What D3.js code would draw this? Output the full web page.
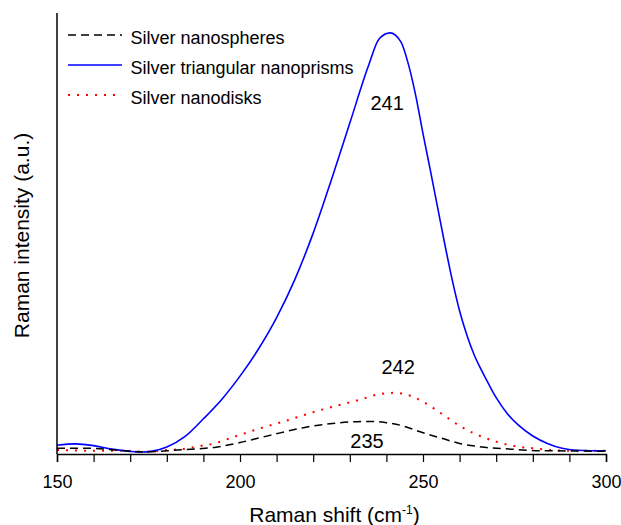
<!DOCTYPE html>
<html>
<head>
<meta charset="utf-8">
<script src="https://cdn.jsdelivr.net/npm/d3@7"></script>
<style>
  body { margin: 0; background: #fff; }
  svg { display: block; font-family: "Liberation Sans", Arial, sans-serif; }
</style>
</head>
<body>
<div id="chart"></div>
<script>
// Raman shift (cm-1) and intensity (a.u.)
const shiftPrisms = [150,155,160,165,170,173,176,180,185,190,195,200,205,210,215,220,225,230,235,238,241,244,246,248,250,252,254,256,258,260,262,264,266,268,270,273,276,280,284,288,292,296,300];
const intPrisms   = [20,23,19,11,6,4.5,6.5,16,40,80,124,177,238,310,397,502,624,752,880,943,957,936,886,815,728,645,560,475,395,325,270,225,190,158,128,92,66,41,24,13,8.5,7.5,7.5];

const shiftDisks = [150,155,160,167,174,180,184,189,193,198,205,212,220,227,233,238,242,245,250,255,260,265,270,275,280,285,290,300];
const intDisks   = [9,8,7.5,7.5,5,9,11,18,24,38,57,74,95,111,124,136,139,136,119,92,64,43,28,18,13,9,7.5,7.5];

const shiftSpheres = [150,159,166,174,183,189,193,196,200,204,211,218,226,232,236,240,244,249,255,260,266,274,282,290,300];
const intSpheres   = [13,13,9,5,9,12,15,19,26,34,48,61,70,73.5,74,71,65,51,36,24,16,11,7.5,7,6];

const xTicks = [150, 200, 250, 300];
const legendNames = ["Silver nanospheres", "Silver triangular nanoprisms", "Silver nanodisks"];

// peak labels: [shift, intensity, text]
const peakLabels = [[240.2, 782, "241"], [243.2, 182, "242"], [234.7, 14, "235"]];

const width = 621, height = 525;
const margin = { top: 13, right: 15, bottom: 71, left: 57 };

const svg = d3.select("#chart").append("svg")
  .attr("width", width)
  .attr("height", height);

const x = d3.scaleLinear().domain([150, 300]).range([margin.left, width - margin.right]);
const y = d3.scaleLinear().domain([0, 1000]).range([height - margin.bottom, margin.top + 1]);

const line = d3.line()
  .x(d => x(d[0]))
  .y(d => y(d[1]))
  .curve(d3.curveMonotoneX);

const series = [
  { xs: shiftSpheres, ys: intSpheres, color: "#000", dash: "8,5", sw: 1.5 },
  { xs: shiftPrisms, ys: intPrisms, color: "#0000ff", dash: null, sw: 1.6 },
  { xs: shiftDisks, ys: intDisks, color: "#ff0000", dash: "2,7", sw: 2 }
];

// curves
series.slice().reverse().forEach(s => {
  svg.append("path")
    .datum(d3.zip(s.xs, s.ys))
    .attr("fill", "none")
    .attr("stroke", s.color)
    .attr("stroke-width", s.sw)
    .attr("stroke-dasharray", s.dash)
    .attr("d", line);
});

// x axis with minor ticks every 10
const xAxis = svg.append("g")
  .attr("transform", `translate(0,${height - margin.bottom})`)
  .call(d3.axisBottom(x).tickValues(d3.range(150, 301, 10)).tickSize(8)
    .tickFormat(d => xTicks.includes(d) ? d : ""));
xAxis.select(".domain").attr("stroke-width", 1.5);
xAxis.selectAll(".tick line").attr("stroke-width", 1.2);
xAxis.selectAll(".tick text")
  .attr("dy", "1.25em")
  .style("font-size", "18px")
  .style("font-family", "'Liberation Sans', Arial, sans-serif");

// y axis: bare line
svg.append("line")
  .attr("x1", margin.left).attr("x2", margin.left)
  .attr("y1", margin.top).attr("y2", height - margin.bottom)
  .attr("stroke", "#000")
  .attr("stroke-width", 1.5);

// axis titles
const xTitle = svg.append("text")
  .attr("x", (margin.left + width - margin.right) / 2 + 3)
  .attr("y", 522)
  .attr("text-anchor", "middle")
  .style("font-size", "21px");
xTitle.append("tspan").text("Raman shift (cm");
xTitle.append("tspan").attr("dy", -8).style("font-size", "12px").text("-1");
xTitle.append("tspan").attr("dy", 8).text(")");

svg.append("text")
  .attr("transform", `translate(29,${(margin.top + height - margin.bottom) / 2 + 2}) rotate(-90)`)
  .attr("text-anchor", "middle")
  .style("font-size", "21px")
  .text("Raman intensity (a.u.)");

// peak labels
svg.selectAll("text.peak")
  .data(peakLabels)
  .enter()
  .append("text")
  .attr("class", "peak")
  .attr("x", d => x(d[0]))
  .attr("y", d => y(d[1]))
  .attr("text-anchor", "middle")
  .style("font-size", "20px")
  .text(d => d[2]);

// legend
const legend = svg.append("g").attr("transform", "translate(68,0)");
legendNames.forEach((name, i) => {
  const s = series[i];
  const ly = 35 + i * 30;
  legend.append("line")
    .attr("x1", 0).attr("x2", 54)
    .attr("y1", ly).attr("y2", ly)
    .attr("stroke", s.color)
    .attr("stroke-width", s.sw)
    .attr("stroke-dasharray", s.dash);
  legend.append("text")
    .attr("x", 62.5)
    .attr("y", ly + 8.5)
    .style("font-size", "18px")
    .text(name);
});
</script>
</body>
</html>
